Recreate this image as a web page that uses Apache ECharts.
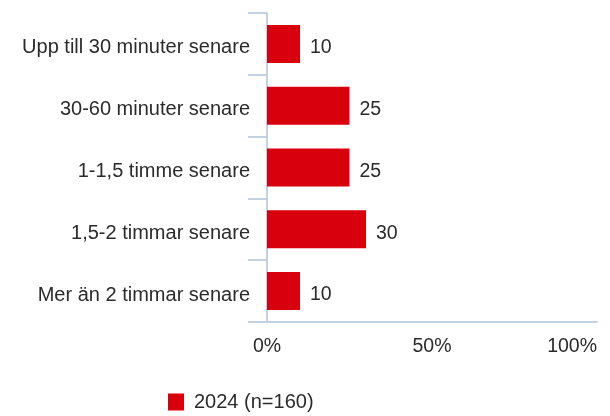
<!DOCTYPE html>
<html><head><meta charset="utf-8">
<script src="https://cdn.jsdelivr.net/npm/echarts@6/dist/echarts.min.js"></script>
<style>html,body{margin:0;padding:0;background:#fff}#c{width:610px;height:416px}</style>
</head><body><div id="c"></div>
<script>
const categories = ['Upp till 30 minuter senare','30-60 minuter senare','1-1,5 timme senare','1,5-2 timmar senare','Mer än 2 timmar senare'];
const values2024 = [10, 25, 25, 30, 10];
const seriesName = '2024 (n=160)';
const xTicks = [0, 50, 100];

const chart = echarts.init(document.getElementById('c'), null, {renderer:'canvas'});
const axisCol = '#c3d1e2';
const font = 'Liberation Sans, Arial, sans-serif';
const txt = '#2b2b2b';
chart.setOption({
  animation:false,
  textStyle:{fontFamily:font},
  grid:{left:267, right:13, top:13, bottom:94, containLabel:false},
  legend:{
    data:[seriesName], left:163, top:387, itemWidth:16, itemHeight:17, itemGap:10,
    icon:'rect',
    textStyle:{fontSize:20, color:txt, fontFamily:font, padding:[0,0,0,5]}
  },
  xAxis:{
    type:'value', min:0, max:100, interval:50,
    axisLine:{show:true, lineStyle:{color:axisCol, width:2}},
    axisTick:{show:false}, splitLine:{show:false},
    axisLabel:{formatter:v=>xTicks.includes(v)?v+'%':'', fontSize:19.5, color:txt, margin:15, alignMaxLabel:'right', fontFamily:font}
  },
  yAxis:{
    type:'category', data:categories, inverse:true,
    axisLine:{show:true, lineStyle:{color:axisCol, width:2}},
    axisTick:{show:true, length:19, lineStyle:{color:axisCol, width:2}},
    axisLabel:{
      formatter:v=>'{a|'+v+'}', margin:17,
      rich:{a:{fontSize:20, color:txt, fontFamily:font, padding:[8,0,0,0]}}
    }
  },
  series:[{
    name:seriesName, type:'bar', data:values2024, barWidth:38,
    itemStyle:{color:'#d9000d'},
    label:{show:true, position:'right', distance:10, offset:[0,4], fontSize:19.5, color:txt, fontFamily:font}
  }]
});
</script></body></html>
